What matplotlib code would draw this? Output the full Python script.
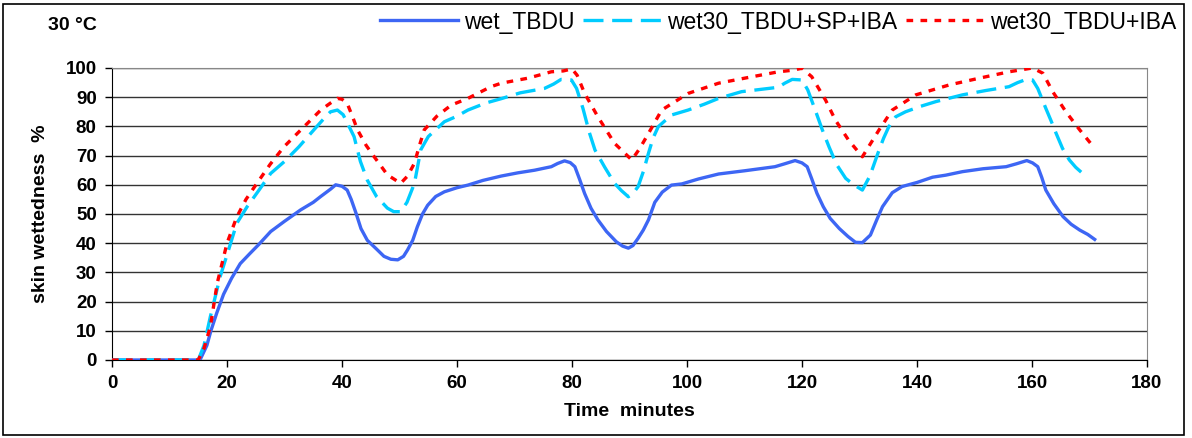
import matplotlib
matplotlib.use('Agg')
import matplotlib.pyplot as plt
from matplotlib.patches import Rectangle

plt.rcParams['font.family'] = ['Liberation Sans', 'DejaVu Sans']

# wet_TBDU
t_wet = [0, 5, 10, 15.3, 16.5, 17.2, 18.2, 19.4, 20.8, 22.3, 24, 25.5, 27.6, 30, 32.8, 35,
         36.3, 38, 38.9, 40, 40.9, 41.6, 42.4, 43.3, 44.4, 46, 47.3, 48.5, 49.7, 50.7,
         51.4, 52.3, 53.1, 54, 54.9, 56.3, 57.8, 60, 61.9, 64.5, 67.7, 70.6, 73.5, 76.4,
         77.5, 78.7, 79.7, 80.5, 81.3, 82.2, 83.3, 84.5, 86, 87.7, 88.8, 89.8, 90.6, 91.5,
         92.4, 93.3, 94.4, 95.7, 97.3, 99.1, 102, 105.5, 110, 115.3, 117, 118.8, 120,
         120.9, 121.7, 122.6, 123.7, 124.9, 126.5, 128, 129.3, 130.5, 131.9, 133, 134,
         135.7, 137.4, 140, 142.7, 145, 147.9, 151.5, 155.5, 157.3, 159.1, 160.1, 161,
         161.7, 162.4, 163.8, 165.4, 166.8, 168.3, 169.7, 170.9]
v_wet = [0, 0, 0, 0, 5, 10, 16, 22.5, 28, 33, 36.5, 39.5, 44, 47.5, 51.4, 54,
         56, 58.5, 60, 59.5, 58.2, 55, 50.5, 45, 41, 38, 35.5, 34.5, 34.3, 35.5,
         37.7, 41, 45.6, 50, 53, 56, 57.6, 59, 59.9, 61.5, 63, 64.1, 65, 66.2,
         67.3, 68.2, 67.6, 66.2, 62, 57, 52, 48, 44, 40.5, 39, 38.3, 39.2, 41.7,
         44.5, 48, 54, 57.5, 59.9, 60.3, 62, 63.7, 64.8, 66.2, 67.2, 68.3, 67.5,
         66.2, 62, 57.1, 52.5, 48.5, 45, 42.3, 40.3, 40.2, 42.8, 48, 52.5,
         57.3, 59.4, 60.8, 62.6, 63.3, 64.5, 65.5, 66.2, 67.2, 68.3, 67.5, 66.2,
         62.5, 58.2, 53.5, 49.1, 46.5, 44.5, 43, 41.3]

# wet30_TBDU+SP+IBA
t_sp = [0, 5, 10, 15, 16, 17.1, 18, 18.8, 20, 21.7, 23.5, 25.5, 27.6, 30, 32.5, 35.1,
        37, 38, 39.2, 40.2, 41.1, 42.1, 43.2, 44.4, 46, 47.9, 49, 50.2, 51.3, 52.6,
        53.7, 55, 57.8, 60, 61.9, 65, 67.7, 71, 75.2, 76.8, 78.1, 79.9, 80.8, 81.9,
        83, 84, 85.7, 87.4, 88.6, 89.8, 90.6, 91.5, 92.4, 93.3, 94.1, 95, 97.3,
        100.2, 103, 105.5, 109.5, 115.9, 117, 118.3, 120, 121, 122.3, 123.5, 124.7,
        126, 127.6, 129, 130.5, 131.8, 133.4, 134.2, 135.1, 136.3, 138, 140.5, 143.3,
        147.9, 152, 156, 157.5, 159, 160.1, 161, 162.4, 163.3, 164.2, 165.3, 166.5,
        167.6, 168.8]
v_sp = [0, 0, 0, 0, 5, 14.8, 22, 28.5, 36, 46.8, 52.5, 58, 63.9, 68, 73, 78.8,
        83, 85, 85.6, 84, 80.5, 76.5, 68, 61.6, 56, 52, 50.8, 50.8, 54, 60.5,
        72, 76.5, 81.6, 83.5, 85.6, 88, 89.5, 91.5, 93, 94.5, 96.1, 95.9, 93, 86.2,
        78, 71.9, 66, 60.5, 58, 55.9, 57, 59.4, 64.5, 70.8, 76, 79.9, 83.9,
        85.6, 87.6, 89.6, 91.9, 93.4, 94.8, 96.1, 95.9, 92.5, 85.6, 79, 73,
        67, 62.2, 60, 58.2, 63, 71.9, 76, 79.9, 83.3, 85, 86.8, 88.5,
        90.8, 92.3, 93.6, 95, 96.1, 95.9, 93, 86.2, 82, 77.6, 72.5, 68.5,
        66, 63.9]

# wet30_TBDU+IBA
t_iba = [0, 5, 10, 15, 16, 17.1, 18.3, 20, 21.7, 23.3, 25.2, 27.5, 29.9, 33.4, 36.3,
         38, 39.2, 40, 40.9, 41.8, 42.7, 44.2, 45.6, 47.9, 50.2, 51.4, 52.6, 53.4,
         54.3, 56.5, 59, 61.9, 65.9, 67.7, 72.3, 76.4, 78.5, 80, 80.9, 82.2, 84.5,
         87.4, 90.4, 91.8, 93.3, 95.6, 100.2, 105.5, 111.3, 115.9, 118.2, 120, 121.7,
         124.1, 125.8, 128.1, 130.5, 133.4, 135.7, 139.8, 145.6, 150.8, 156, 158.5,
         160.1, 161.9, 163.6, 165.9, 168.3, 170.9]
v_iba = [0, 0, 0, 0, 4, 11.4, 26.3, 40, 49, 55, 60.5, 67, 73, 79.9, 85.6,
         88, 89.6, 89.3, 87.9, 83.5, 78.8, 73.5, 69.6, 63.4, 60.5, 63, 67.4, 73,
         78.8, 83.5, 87.3, 89.6, 93.6, 94.8, 96.5, 98.7, 99, 99.7, 97.5, 91.3, 83.3,
         74.2, 68.5, 72.5, 77.6, 85.6, 91.3, 94.8, 97, 98.7, 99.2, 99.9, 97,
         89, 82.2, 75.3, 69.6, 78.8, 85.6, 90.8, 94.2, 96.5, 98.7, 99.5,
         100, 98.2, 91.9, 85, 78.8, 72.5]

x_ticks = list(range(0, 181, 20))
y_ticks = list(range(0, 101, 10))

fig = plt.figure(figsize=(11.92, 4.38), dpi=100)
ax = fig.add_axes([112 / 1192, 1 - 360 / 438, (1147 - 112) / 1192, (360 - 68) / 438])

ax.plot(t_wet, v_wet, color='#3d66f4', lw=2.4, label='wet_TBDU', zorder=3)
ax.plot(t_sp, v_sp, color='#00ccff', lw=2.4, dashes=(6, 2.6), label='wet30_TBDU+SP+IBA', zorder=4)
ax.plot(t_iba, v_iba, color='#ff0000', lw=2.4, dashes=(2, 2.2), label='wet30_TBDU+IBA', zorder=5)

ax.set_xlim(0, 180)
ax.set_ylim(0, 100)
ax.set_xticks(x_ticks)
ax.set_yticks(y_ticks)
ax.grid(axis='y', color='#333333', lw=1)
ax.set_axisbelow(True)
ax.tick_params(direction='out', length=5, width=1, labelsize=13.5, pad=6)
for lab in ax.get_xticklabels() + ax.get_yticklabels():
    lab.set_fontweight('bold')

ax.spines['left'].set_color('black')
ax.spines['bottom'].set_color('black')
ax.spines['top'].set_color('#888888')
ax.spines['right'].set_color('#888888')

ax.set_xlabel('Time  minutes', fontsize=14, fontweight='bold', labelpad=8)
ax.set_ylabel('skin wettedness  %', fontsize=14, fontweight='bold', labelpad=12)

fig.text(48 / 1192, 1 - 25 / 438, '30 °C', fontsize=14, fontweight='bold', va='center')

fig.legend(loc='center', bbox_to_anchor=(778 / 1192, 1 - 22 / 438), ncol=3, frameon=False,
           fontsize=16.5, handlelength=3.4, columnspacing=0.4, handletextpad=0.25)

fig.add_artist(Rectangle((3 / 1192, 3 / 438), 1181 / 1192, 431 / 438, transform=fig.transFigure,
                         fill=False, edgecolor='black', lw=1.2))

fig.savefig('out.png', dpi=100)
